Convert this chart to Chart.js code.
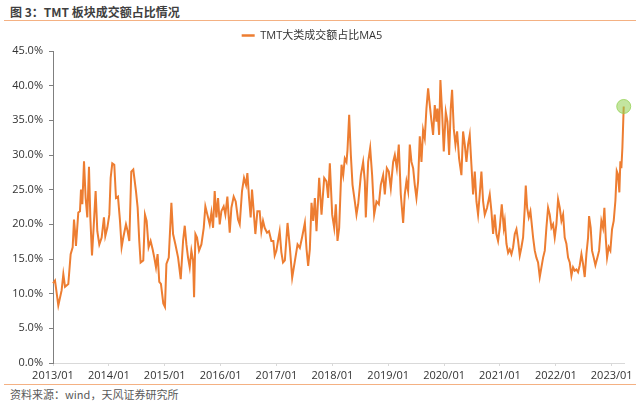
<html>
<head>
  <meta charset="utf-8">
  <script src="https://cdn.jsdelivr.net/npm/chart.js@4.4.0/dist/chart.umd.min.js"></script>
  <style>
    body { margin:0; width:640px; height:401px; background:#fff; position:relative; overflow:hidden;
           font-family:"Noto Sans CJK SC", sans-serif; }
    #title { position:absolute; left:10px; top:3px; font-size:12px; font-weight:bold; color:#3f3f3f; }
    .rule { position:absolute; left:4px; width:632px; height:0; border-top:1px solid #f4b183; }
    #wrap { position:absolute; left:0; top:22px; width:640px; height:362px; }
    #source { position:absolute; left:10px; top:386px; font-size:11px; color:#595959; }
  </style>
</head>
<body>
  <div id="title">图 3：TMT 板块成交额占比情况</div>
  <div class="rule" style="top:20px"></div>
  <div id="wrap"><canvas id="chart"></canvas></div>
  <div class="rule" style="top:384px"></div>
  <div id="source">资料来源：wind，天风证券研究所</div>

<script>
// series (date as decimal year, value in %)
var seriesName = 'TMT大类成交额占比MA5';
var dates = [
  2013.000, 2013.036, 2013.095, 2013.155, 2013.185, 2013.215, 2013.274, 2013.316, 2013.352, 2013.376,
  2013.394, 2013.411, 2013.453, 2013.483, 2013.501, 2013.525, 2013.555, 2013.584, 2013.614, 2013.644,
  2013.668, 2013.698, 2013.727, 2013.763, 2013.793, 2013.829, 2013.871, 2013.912, 2013.936, 2013.972,
  2014.008, 2014.032, 2014.061, 2014.097, 2014.127, 2014.163, 2014.199, 2014.228, 2014.258, 2014.306,
  2014.336, 2014.366, 2014.401, 2014.437, 2014.485, 2014.515, 2014.544, 2014.568, 2014.616, 2014.646,
  2014.676, 2014.711, 2014.747, 2014.783, 2014.813, 2014.843, 2014.872, 2014.902, 2014.932, 2014.974,
  2015.004, 2015.030, 2015.072, 2015.119, 2015.149, 2015.191, 2015.239, 2015.286, 2015.328, 2015.358,
  2015.388, 2015.417, 2015.447, 2015.477, 2015.507, 2015.525, 2015.549, 2015.578, 2015.614, 2015.656,
  2015.698, 2015.727, 2015.763, 2015.805, 2015.835, 2015.865, 2015.894, 2015.924, 2015.954, 2015.984,
  2016.014, 2016.055, 2016.085, 2016.121, 2016.163, 2016.193, 2016.234, 2016.270, 2016.312, 2016.342,
  2016.383, 2016.419, 2016.455, 2016.479, 2016.509, 2016.538, 2016.562, 2016.592, 2016.622, 2016.658,
  2016.699, 2016.729, 2016.759, 2016.789, 2016.831, 2016.866, 2016.908, 2016.944, 2016.968, 2016.998,
  2017.027, 2017.057, 2017.087, 2017.117, 2017.150, 2017.198, 2017.239, 2017.281, 2017.329, 2017.377,
  2017.418, 2017.460, 2017.508, 2017.538, 2017.567, 2017.597, 2017.627, 2017.657, 2017.687, 2017.716,
  2017.764, 2017.806, 2017.854, 2017.895, 2017.925, 2017.955, 2017.997, 2018.033, 2018.062, 2018.092,
  2018.122, 2018.164, 2018.194, 2018.223, 2018.253, 2018.271, 2018.301, 2018.331, 2018.361, 2018.402,
  2018.432, 2018.462, 2018.510, 2018.551, 2018.581, 2018.599, 2018.641, 2018.677, 2018.712, 2018.748,
  2018.790, 2018.832, 2018.867, 2018.909, 2018.939, 2018.975, 2019.010, 2019.046, 2019.088, 2019.118,
  2019.154, 2019.189, 2019.225, 2019.267, 2019.296, 2019.326, 2019.356, 2019.386, 2019.416, 2019.446,
  2019.475, 2019.505, 2019.535, 2019.565, 2019.595, 2019.624, 2019.654, 2019.684, 2019.714, 2019.744,
  2019.773, 2019.803, 2019.833, 2019.863, 2019.881, 2019.911, 2019.934, 2019.964, 2019.994, 2020.030,
  2020.060, 2020.090, 2020.119, 2020.143, 2020.173, 2020.203, 2020.233, 2020.268, 2020.310, 2020.340,
  2020.370, 2020.400, 2020.429, 2020.459, 2020.489, 2020.519, 2020.549, 2020.579, 2020.608, 2020.638,
  2020.668, 2020.698, 2020.728, 2020.769, 2020.817, 2020.847, 2020.877, 2020.906, 2020.936, 2020.966,
  2020.996, 2021.032, 2021.068, 2021.086, 2021.116, 2021.146, 2021.175, 2021.205, 2021.235, 2021.265,
  2021.295, 2021.325, 2021.354, 2021.384, 2021.414, 2021.444, 2021.462, 2021.486, 2021.515, 2021.545,
  2021.563, 2021.593, 2021.623, 2021.652, 2021.682, 2021.712, 2021.742, 2021.772, 2021.802, 2021.831,
  2021.861, 2021.891, 2021.921, 2021.951, 2021.980, 2022.010, 2022.040, 2022.070, 2022.100, 2022.130,
  2022.159, 2022.189, 2022.219, 2022.249, 2022.279, 2022.308, 2022.338, 2022.368, 2022.398, 2022.428,
  2022.458, 2022.487, 2022.517, 2022.547, 2022.577, 2022.595, 2022.624, 2022.648, 2022.678, 2022.708,
  2022.744, 2022.774, 2022.815, 2022.845, 2022.869, 2022.893, 2022.917, 2022.947, 2022.976, 2023.006,
  2023.036, 2023.066, 2023.090, 2023.113, 2023.137, 2023.155, 2023.173, 2023.191, 2023.215
];
var share = [
  11.5, 11.9, 8.3, 10.5, 12.8, 11.0, 11.4, 15.7, 16.7, 20.7,
  19.0, 16.9, 21.7, 21.9, 25.0, 22.9, 29.1, 23.8, 21.0, 28.3,
  21.0, 15.5, 19.5, 24.8, 19.0, 17.1, 18.1, 21.0, 18.3, 19.5,
  21.4, 26.7, 28.8, 28.6, 23.8, 24.0, 20.5, 16.7, 18.1, 20.0,
  19.0, 17.6, 27.6, 27.9, 24.8, 22.4, 17.6, 14.5, 14.8, 21.4,
  20.5, 16.7, 17.6, 16.4, 15.2, 13.8, 15.7, 11.7, 11.4, 8.6,
  8.1, 14.3, 15.2, 23.1, 18.6, 17.1, 15.2, 12.1, 17.6, 19.8,
  17.1, 15.2, 13.8, 16.2, 14.8, 9.5, 18.6, 18.1, 16.2, 17.1,
  19.5, 22.6, 21.4, 20.0, 21.7, 19.5, 24.8, 21.0, 23.8, 20.0,
  21.9, 22.6, 21.4, 24.0, 18.8, 22.4, 24.0, 23.3, 20.7, 20.0,
  24.8, 26.7, 25.7, 27.4, 23.8, 21.0, 25.0, 21.9, 18.6, 21.9,
  21.9, 19.0, 20.5, 19.5, 18.8, 19.0, 17.6, 17.6, 15.5, 16.2,
  17.6, 19.0, 16.0, 14.5, 14.8, 20.2, 16.7, 12.3, 14.7, 17.1,
  16.6, 18.2, 20.2, 16.4, 14.0, 16.4, 23.1, 20.5, 23.8, 19.0,
  26.7, 21.4, 26.7, 26.2, 23.8, 28.8, 21.4, 19.5, 22.9, 17.6,
  19.5, 28.6, 27.1, 29.5, 29.0, 30.7, 35.8, 30.0, 25.7, 23.3,
  21.4, 22.9, 27.1, 29.0, 26.2, 21.0, 29.0, 31.0, 27.1, 21.4,
  23.3, 22.9, 25.7, 27.1, 24.3, 28.1, 27.6, 25.2, 29.0, 30.0,
  28.1, 31.5, 24.3, 20.2, 24.3, 26.2, 24.8, 31.5, 29.0, 28.1,
  25.7, 23.8, 26.2, 32.7, 29.0, 33.6, 32.4, 36.7, 39.6, 37.2,
  35.0, 32.9, 37.2, 34.8, 36.7, 32.9, 40.8, 36.2, 30.5, 36.2,
  34.8, 30.0, 36.7, 39.4, 33.8, 31.5, 33.4, 29.5, 27.1, 33.4,
  31.5, 29.0, 31.5, 32.9, 28.6, 24.3, 27.6, 23.3, 21.4, 24.3,
  27.6, 23.3, 21.4, 22.4, 24.3, 21.9, 18.6, 21.4, 18.6, 17.6,
  19.5, 22.9, 19.5, 20.5, 17.2, 15.9, 16.4, 15.7, 16.7, 18.6,
  19.3, 17.6, 15.5, 16.7, 18.1, 22.4, 25.6, 22.4, 21.0, 21.9,
  20.5, 18.1, 16.2, 15.2, 14.5, 12.4, 13.8, 15.2, 16.2, 19.5,
  22.4, 21.4, 19.5, 20.0, 18.1, 20.0, 23.6, 22.4, 20.5, 21.4,
  18.1, 17.2, 15.2, 14.5, 12.6, 13.8, 13.3, 13.5, 13.1, 14.1,
  15.7, 14.3, 12.4, 15.7, 18.1, 21.2, 19.5, 16.2, 15.2, 14.1,
  15.2, 16.2, 20.5, 19.5, 22.4, 18.1, 15.2, 16.7, 16.2, 19.3,
  20.5, 23.4, 27.7, 27.2, 24.6, 29.1, 28.1, 31.0, 37.0
];
var yTicks = [0, 5, 10, 15, 20, 25, 30, 35, 40, 45];
var xYears = [2013, 2014, 2015, 2016, 2017, 2018, 2019, 2020, 2021, 2022, 2023];

var points = [];
for (var i = 0; i < dates.length; i++) {
  points.push({ x: dates[i], y: share[i] });
}
var last = points.length - 1;

var fontFam = '"Open Sans", "Noto Sans CJK SC", sans-serif';

new Chart(document.getElementById('chart'), {
  type: 'line',
  data: {
    datasets: [{
      label: seriesName,
      data: points,
      borderColor: '#ed7d31',
      backgroundColor: '#ed7d31',
      borderWidth: 2,
      tension: 0,
      fill: false,
      clip: false,
      // only the last point gets the green marker
      pointRadius: function(ctx) { return ctx.dataIndex === last ? 7 : 0; },
      pointBackgroundColor: 'rgba(146, 208, 80, 0.55)',
      pointBorderColor: 'rgba(146, 208, 80, 0.75)',
      pointBorderWidth: 1
    }]
  },
  options: {
    responsive: true,
    maintainAspectRatio: false,
    animation: false,
    layout: { padding: { top: 2, right: 16, bottom: 0, left: 0 } },
    plugins: {
      tooltip: { enabled: false },
      legend: {
        position: 'top',
        labels: {
          usePointStyle: true,
          pointStyle: 'line',
          pointStyleWidth: 13,
          padding: 6,
          color: '#333',
          font: { size: 11, family: fontFam },
          // thicker legend stroke, like the original
          generateLabels: function(chart) {
            var items = Chart.defaults.plugins.legend.labels.generateLabels(chart);
            items.forEach(function(it) {
              it.lineWidth = 2.5;
              it.strokeStyle = '#ed7d31';
            });
            return items;
          }
        }
      }
    },
    scales: {
      x: {
        type: 'linear',
        min: xYears[0],
        max: 2023.22,
        afterBuildTicks: function(axis) {
          axis.ticks = xYears.map(function(v) { return { value: v }; });
        },
        afterFit: function(axis) { axis.height = 21; },
        ticks: {
          autoSkip: false,
          maxRotation: 0,
          padding: 3,
          color: '#333',
          font: { size: 11, family: fontFam },
          callback: function(v) { return v + '/01'; }
        },
        grid: { drawOnChartArea: false, tickLength: 3, color: '#d9d9d9' },
        border: { color: '#d9d9d9', width: 1 }
      },
      y: {
        min: 0,
        max: 45,
        afterBuildTicks: function(axis) {
          axis.ticks = yTicks.map(function(v) { return { value: v }; });
        },
        afterFit: function(axis) { axis.width = 53; },
        ticks: {
          padding: 6,
          color: '#333',
          font: { size: 11, family: fontFam },
          callback: function(v) { return v.toFixed(1) + '%'; }
        },
        grid: { drawOnChartArea: false, tickLength: 4, color: '#7f7f7f' },
        border: { color: '#7f7f7f', width: 1 }
      }
    }
  }
});
</script>
</body>
</html>
